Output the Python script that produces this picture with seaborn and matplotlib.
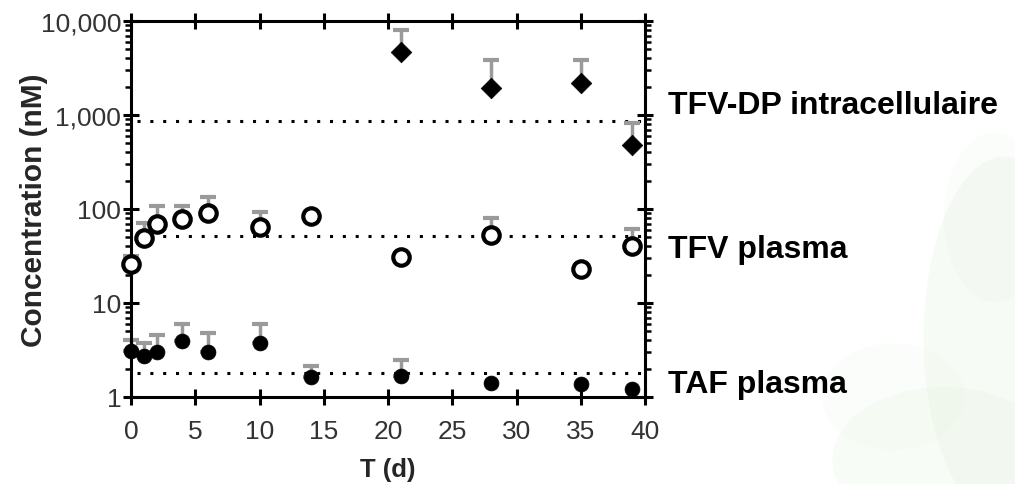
import numpy as np
import pandas as pd
import matplotlib
matplotlib.use("Agg")
import matplotlib.pyplot as plt
import seaborn as sns
from matplotlib.ticker import FixedLocator, LogLocator, NullFormatter, FuncFormatter
from matplotlib.patches import Ellipse

# ---- data ----
dp_days = [21, 28, 35, 39]
dp_mean = [4700, 1950, 2200, 480]
dp_upper = [8000, 3850, 3850, 820]

tfv_days = [0, 1, 2, 4, 6, 10, 14, 21, 28, 35, 39]
tfv_mean = [26, 49, 70, 78, 90, 65, 84, 30.5, 53, 23, 40.5]
tfv_upper = [32, 71, 108, 108, 135, 94, 84, 30.5, 80, 23, 61]

taf_days = [0, 1, 2, 4, 6, 10, 14, 21, 28, 35, 39]
taf_mean = [3.08, 2.73, 3.03, 3.97, 3.03, 3.73, 1.64, 1.69, 1.40, 1.38, 1.21]
taf_upper = [4.04, 3.72, 4.57, 5.98, 4.76, 5.98, 2.14, 2.48, 1.40, 1.38, 1.21]

ref_levels = [870, 52, 1.81]
series_labels = ["TFV-DP intracellulaire", "TFV plasma", "TAF plasma"]
x_ticks = [0, 5, 10, 15, 20, 25, 30, 35, 40]
y_ticks = [1, 10, 100, 1000, 10000]

sns.set_theme(style="white")
plt.rcParams['font.family'] = ['Liberation Sans', 'DejaVu Sans']

fig = plt.figure(figsize=(10.15, 4.85), dpi=100)

# faint green watercolor background (bottom right)
for (cx, cy, w, h, a) in [(0.99, 0.30, 0.16, 0.75, 0.22), (0.93, 0.05, 0.22, 0.30, 0.18),
                          (0.98, 0.55, 0.10, 0.35, 0.12), (0.88, 0.18, 0.14, 0.22, 0.10)]:
    fig.patches.append(Ellipse((cx, cy), w, h, transform=fig.transFigure,
                               facecolor="#dcefd6", edgecolor="none", alpha=a, zorder=-5))

ax = fig.add_axes([131/1015, 1-398/485, (645-131)/1015, (398-22)/485])
ax.patch.set_alpha(0)

df_dp = pd.DataFrame({"T": dp_days, "C": dp_mean})
df_tfv = pd.DataFrame({"T": tfv_days, "C": tfv_mean})
df_taf = pd.DataFrame({"T": taf_days, "C": taf_mean})

grey = "#9a9a9a"
for days, mean, up in [(dp_days, dp_mean, dp_upper), (tfv_days, tfv_mean, tfv_upper), (taf_days, taf_mean, taf_upper)]:
    mean = np.array(mean); up = np.array(up)
    yerr = np.vstack([np.zeros_like(mean), up - mean])
    mask = (up - mean) > 0
    ax.errorbar(np.array(days)[mask], mean[mask], yerr=yerr[:, mask], fmt="none",
                ecolor=grey, elinewidth=2.5, capsize=6, capthick=3, zorder=2, clip_on=False)

sns.scatterplot(data=df_dp, x="T", y="C", marker="D", s=110, color="black",
                edgecolor="black", linewidth=0.5, ax=ax, zorder=4, legend=False, clip_on=False)
sns.scatterplot(data=df_tfv, x="T", y="C", marker="o", s=140, facecolor="white",
                edgecolor="black", linewidth=3, ax=ax, zorder=4, legend=False, clip_on=False)
sns.scatterplot(data=df_taf, x="T", y="C", marker="o", s=115, color="black",
                edgecolor="black", linewidth=0.5, ax=ax, zorder=4, legend=False, clip_on=False)

for lvl in ref_levels:
    ax.plot([0.5, 39.7], [lvl, lvl], color="black", linestyle=(0, (1, 3.2)), linewidth=2.2, zorder=1)

ax.set_yscale("log")
ax.set_xlim(0, 40)
ax.set_ylim(1, 10000)
ax.xaxis.set_major_locator(FixedLocator(x_ticks))
ax.yaxis.set_major_locator(FixedLocator(y_ticks))
ax.yaxis.set_minor_locator(LogLocator(base=10, subs=np.arange(2, 10)))
ax.yaxis.set_minor_formatter(NullFormatter())
ax.yaxis.set_major_formatter(FuncFormatter(lambda v, p: f"{int(v):,}"))

for s in ax.spines.values():
    s.set_visible(True)
    s.set_color("black")
    s.set_linewidth(2.2)

ax.tick_params(axis="both", which="major", direction="inout", length=12, width=2.2,
               colors="black", labelcolor="#333333", labelsize=19, pad=1,
               top=True, right=True, bottom=True, left=True)
ax.tick_params(axis="y", which="minor", direction="out", length=4.5, width=1.8,
               left=True, right=True, colors="black")
ax.tick_params(axis="x", which="major", pad=10)

ax.set_xlabel("T (d)", fontsize=18.5, fontweight="bold", labelpad=10)
ax.set_ylabel("Concentration (nM)", fontsize=21.5, fontweight="bold")
ax.yaxis.set_label_coords(-0.161, 0.5)

label_ypix = [106, 250, 385]
for lab, yp in zip(series_labels, label_ypix):
    fig.text(668/1015, 1 - yp/485, lab, fontsize=23, fontweight="bold",
             ha="left", va="center", color="black")

fig.savefig("out.png", dpi=100)
